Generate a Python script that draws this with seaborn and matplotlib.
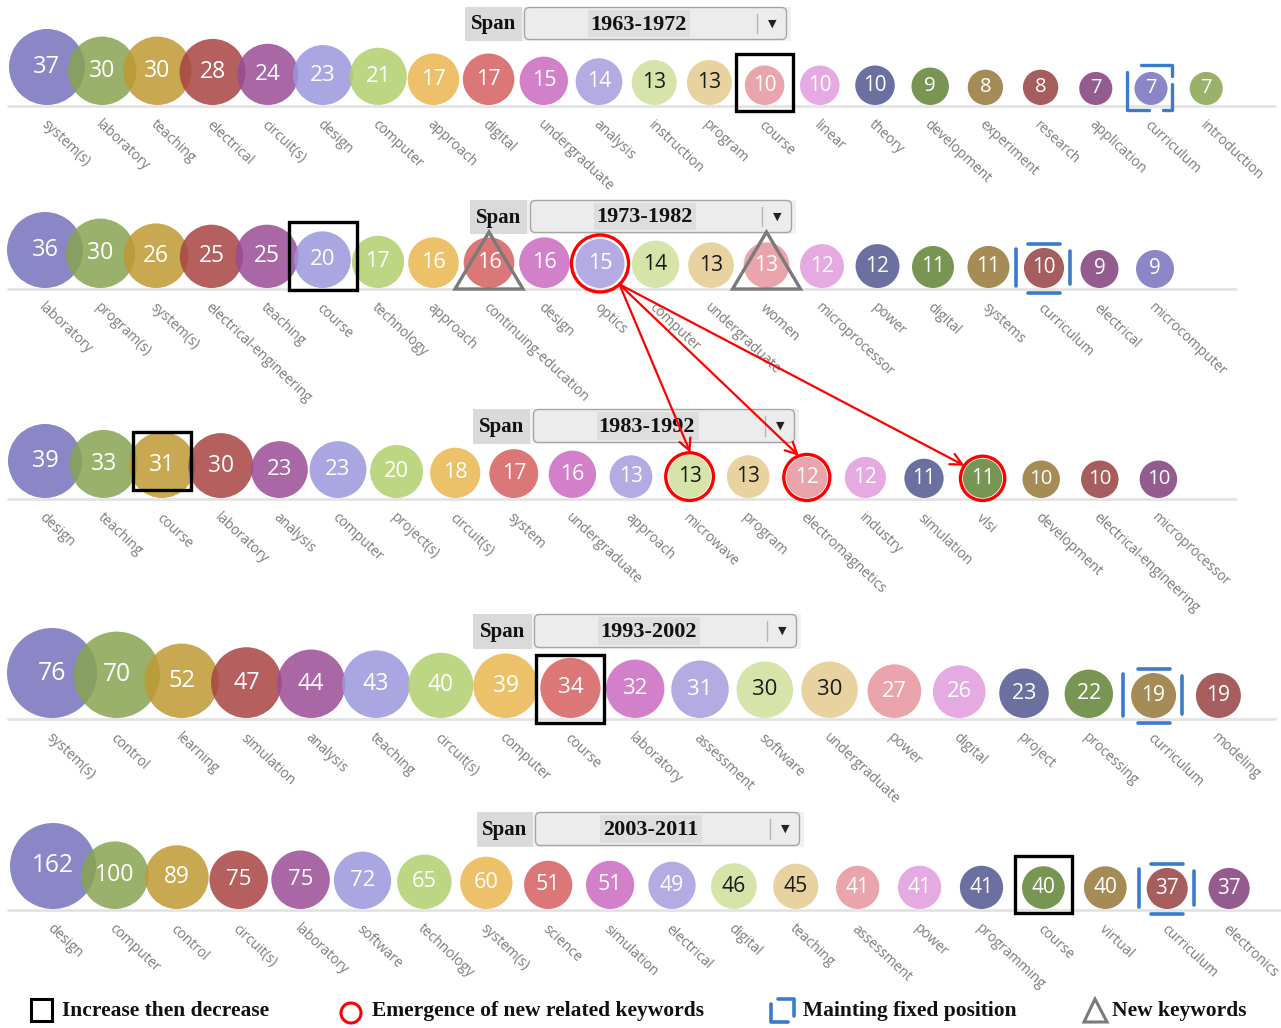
import numpy as np
import pandas as pd
import matplotlib
matplotlib.use("Agg")
import matplotlib.pyplot as plt
import seaborn as sns
from matplotlib.patches import Rectangle, Circle, Polygon, FancyBboxPatch
from matplotlib.colors import to_rgb

# ---------------- data ----------------
spans = ["1963-1972", "1973-1982", "1983-1992", "1993-2002", "2003-2011"]

kw_1963 = ["system(s)", "laboratory", "teaching", "electrical", "circuit(s)", "design", "computer",
           "approach", "digital", "undergraduate", "analysis", "instruction", "program", "course",
           "linear", "theory", "development", "experiment", "research", "application", "curriculum",
           "introduction"]
cnt_1963 = [37, 30, 30, 28, 24, 23, 21, 17, 17, 15, 14, 13, 13, 10, 10, 10, 9, 8, 8, 7, 7, 7]

kw_1973 = ["laboratory", "program(s)", "system(s)", "electrical-engineering", "teaching", "course",
           "technology", "approach", "continuing-education", "design", "optics", "computer",
           "undergraduate", "women", "microprocessor", "power", "digital", "systems", "curriculum",
           "electrical", "microcomputer"]
cnt_1973 = [36, 30, 26, 25, 25, 20, 17, 16, 16, 16, 15, 14, 13, 13, 12, 12, 11, 11, 10, 9, 9]

kw_1983 = ["design", "teaching", "course", "laboratory", "analysis", "computer", "project(s)",
           "circuit(s)", "system", "undergraduate", "approach", "microwave", "program",
           "electromagnetics", "industry", "simulation", "vlsi", "development",
           "electrical-engineering", "microprocessor"]
cnt_1983 = [39, 33, 31, 30, 23, 23, 20, 18, 17, 16, 13, 13, 13, 12, 12, 11, 11, 10, 10, 10]

kw_1993 = ["system(s)", "control", "learning", "simulation", "analysis", "teaching", "circuit(s)",
           "computer", "course", "laboratory", "assessment", "software", "undergraduate", "power",
           "digital", "project", "processing", "curriculum", "modeling"]
cnt_1993 = [76, 70, 52, 47, 44, 43, 40, 39, 34, 32, 31, 30, 30, 27, 26, 23, 22, 19, 19]

kw_2003 = ["design", "computer", "control", "circuit(s)", "laboratory", "software", "technology",
           "system(s)", "science", "simulation", "electrical", "digital", "teaching", "assessment",
           "power", "programming", "course", "virtual", "curriculum", "electronics"]
cnt_2003 = [162, 100, 89, 75, 75, 72, 65, 60, 51, 51, 49, 46, 45, 41, 41, 41, 40, 40, 37, 37]

keywords = [kw_1963, kw_1973, kw_1983, kw_1993, kw_2003]
counts = [cnt_1963, cnt_1973, cnt_1983, cnt_1993, cnt_2003]

legend_labels = ["Increase then decrease", "Emergence of new related keywords",
                 "Mainting fixed position", "New keywords"]

# ---------------- layout / style ----------------
W, H, DPI = 1281, 1028, 100
ROW_X0 = [47, 45, 45, 52, 53]
ROW_DX = [55.2, 55.5, 58.6, 64.8, 61.9]
ROW_BASE = [105, 288, 498, 718, 909]
ROW_RMAX = [38, 38, 37, 45, 43]
ROW_LINE_END = [1275, 1236, 1236, 1275, 1281]
SPAN_BOX = [(465, 522, 524, 787, 8, 39), (470, 527, 530, 792, 201, 232),
            (473, 530, 533, 795, 410, 442), (473, 532, 534, 797, 615, 647),
            (477, 533, 535, 800, 813, 845)]

ALPHA = 0.85
OBS = ['#8b86c6', '#99b26b', '#c9a951', '#b55f5f', '#aa67a6', '#aaa7e1', '#bdd683', '#ecc169',
       '#dc7777', '#d480cb', '#b4abe3', '#d6e3a9', '#e9d4a1', '#eba4ab', '#e5aae1', '#6b70a1',
       '#799653', '#a58b56', '#a55d5d', '#955b8f']
def unblend(c):
    rgb = np.array(to_rgb(c))
    return tuple(np.clip((rgb - (1 - ALPHA)) / ALPHA, 0, 1))
palette = {f"c{i}": unblend(c) for i, c in enumerate(OBS)}
DARK_TEXT = {11, 12}

sns.set_theme(style="white")
plt.rcParams["font.family"] = ["Open Sans", "DejaVu Sans"]

fig = plt.figure(figsize=(W / DPI, H / DPI), dpi=DPI)
ax = fig.add_axes([0, 0, 1, 1])

rows = []
for k in range(5):
    vmax = max(counts[k])
    for i, (lab, v) in enumerate(zip(keywords[k], counts[k])):
        r = ROW_RMAX[k] * np.sqrt(v / vmax)
        x = ROW_X0[k] + i * ROW_DX[k]
        y = ROW_BASE[k] - r
        rows.append(dict(row=k, idx=i, label=lab, value=v, r=r, x=x, y=y,
                         s=(2 * r * 72 / DPI) ** 2, hue=f"c{i % 20}"))
df = pd.DataFrame(rows)

# baselines
for k in range(5):
    ax.plot([8, ROW_LINE_END[k]], [ROW_BASE[k] + 1, ROW_BASE[k] + 1], color="#e3e3e3", lw=2, zorder=1)

smin, smax = df["s"].min(), df["s"].max()
sns.scatterplot(data=df, x="x", y="y", hue="hue", palette=palette, hue_order=list(palette.keys()),
                size="s", sizes=(smin, smax), size_norm=(smin, smax), alpha=ALPHA,
                linewidth=0, legend=False, ax=ax, zorder=2)

for _, d in df.iterrows():
    fs = 12.5 + 0.12 * d.r
    col = "#1a1a1a" if d.idx % 20 in DARK_TEXT else "white"
    ax.text(d.x, d.y, str(d.value), ha="center", va="center", fontsize=fs, color=col, zorder=4)
    ax.text(d.x - 4, ROW_BASE[d.row] + 18, d.label, rotation=-43, rotation_mode="anchor",
            ha="left", va="center", fontsize=10, color="#7c7c7c", zorder=3)

# span widgets
serif = ["Liberation Serif", "DejaVu Serif"]
for k, (sx0, sx1, dx0, dx1, y0, y1) in enumerate(SPAN_BOX):
    ax.add_patch(Rectangle((sx0, y0 - 1), dx1 + 4 - sx0, y1 - y0 + 3, facecolor="#f1f1f1",
                           edgecolor="none", zorder=5))
    ax.add_patch(Rectangle((sx0, y0 - 1), sx1 - sx0, y1 - y0 + 3, facecolor="#dadada",
                           edgecolor="none", zorder=6))
    ax.text((sx0 + sx1) / 2, (y0 + y1) / 2 + 1, "Span", ha="center", va="center",
            fontsize=15, fontweight="bold", family=serif, color="#111111", zorder=7)
    ax.add_patch(FancyBboxPatch((dx0 + 2, y0 + 1), dx1 - dx0 - 4, y1 - y0 - 2,
                                boxstyle="round,pad=1.5,rounding_size=5", facecolor="#ececec",
                                edgecolor="#a5a5a5", lw=1, zorder=6))
    tx = dx0 + 0.435 * (dx1 - dx0)
    ax.add_patch(Rectangle((tx - 50, y0 + 2), 102, y1 - y0 - 4, facecolor="#dedede",
                           edgecolor="none", zorder=7))
    ax.text(tx, (y0 + y1) / 2 + 1, spans[k], ha="center", va="center", fontsize=16,
            fontweight="bold", family=serif, color="#111111", zorder=8)
    ax.plot([dx1 - 30, dx1 - 30], [y0 + 6, y1 - 6], color="#b5b5b5", lw=1, zorder=8)
    ax.text(dx1 - 15, (y0 + y1) / 2, "\u25bc", ha="center", va="center", fontsize=8,
            family=["DejaVu Sans"], color="#222222", zorder=8)

def pos(k, i):
    d = df[(df.row == k) & (df.idx == i)].iloc[0]
    return d.x, d.y, d.r

# black squares: increase then decrease
for k, i, half, dy in [(0, 13, 28.5, -3), (1, 5, 34, -4), (2, 2, 29, -4), (3, 8, 34, 1), (4, 16, 28.5, -3)]:
    x, y, r = pos(k, i)
    ax.add_patch(Rectangle((x - half, y + dy - half), 2 * half, 2 * half, facecolor="none",
                           edgecolor="black", lw=2.4, zorder=9))

# red rings
rings = {}
for k, i, extra in [(1, 10, 4), (2, 11, 2.5), (2, 13, 2.5), (2, 16, 2.5)]:
    x, y, r = pos(k, i)
    rings[(k, i)] = (x, y, r + extra)
    ax.add_patch(Circle((x, y), r + extra, facecolor="none", edgecolor="red", lw=2.4, zorder=9))

# arrows
sx, sy, sr = rings[(1, 10)]
start = (sx + sr * np.cos(np.radians(47)), sy + sr * np.sin(np.radians(47)))
for key, ang in [((2, 11), 88), ((2, 13), 110), ((2, 16), 145)]:
    cx, cy, cr = rings[key]
    end = (cx + cr * np.cos(np.radians(ang)), cy - cr * np.sin(np.radians(ang)))
    ax.annotate("", xy=end, xytext=start,
                arrowprops=dict(arrowstyle="->,head_length=0.7,head_width=0.35", color="red",
                                lw=1.6, shrinkA=0, shrinkB=0), zorder=9)

# gray triangles: new keywords
for k, i in [(1, 8), (1, 13)]:
    x, y, r = pos(k, i)
    b = ROW_BASE[k]
    ax.add_patch(Polygon([(x, b - 56), (x - 34, b + 1), (x + 34, b + 1)], closed=True,
                         facecolor="none", edgecolor="#7a7a7a", lw=2.4, zorder=9, joinstyle="miter"))

# blue brackets: maintaining fixed position
BLUE = "#3a7bcc"
x, y, r = pos(0, 20)
for seg in [[(x - 24, y - 16), (x - 24, y + 22), (x - 2, y + 22)],
            [(x - 10, y - 23), (x + 21, y - 23), (x + 21, y - 12)],
            [(x + 21, y - 4), (x + 21, y + 22), (x + 12, y + 22)]]:
    xs, ys = zip(*seg)
    ax.plot(xs, ys, color=BLUE, lw=2.4, solid_joinstyle="round", solid_capstyle="round", zorder=9)
for k, i in [(1, 18), (3, 17), (4, 18)]:
    x, y, r = pos(k, i)
    hx, hy = r + 8, r + 4
    ax.plot([x - hx, x - hx], [y - r + 1, y + r - 2], color=BLUE, lw=2.6, zorder=9)
    ax.plot([x + hx - 2, x + hx - 2], [y - r + 3, y + r - 4], color=BLUE, lw=2.6, zorder=9)
    ax.plot([x - 16, x + 16], [y - hy, y - hy], color=BLUE, lw=2.6, zorder=9)
    ax.plot([x - 16, x + 16], [y + hy + 1, y + hy + 1], color=BLUE, lw=2.6, zorder=9)

# legend
ly = 1011
ax.add_patch(Rectangle((31, 999), 21, 22, facecolor="none", edgecolor="black", lw=2.2, zorder=9))
ax.add_patch(Circle((351, 1013), 10, facecolor="none", edgecolor="red", lw=2.2, zorder=9))
for seg in [[(771, 1004), (771, 1022), (788, 1022)], [(778, 999), (794, 999), (794, 1016)]]:
    xs, ys = zip(*seg)
    ax.plot(xs, ys, color=BLUE, lw=2.6, solid_joinstyle="round", solid_capstyle="round", zorder=9)
ax.add_patch(Polygon([(1095, 999), (1084, 1022), (1107, 1022)], closed=True, facecolor="none",
                     edgecolor="#7a7a7a", lw=2.2, zorder=9))
for tx, t in zip([62, 372, 803, 1112], legend_labels):
    ax.text(tx, ly, t, ha="left", va="center", fontsize=15.5, fontweight="bold", family=serif,
            color="#111111", zorder=9)

ax.set_xlim(0, W)
ax.set_ylim(H, 0)
ax.axis("off")
fig.savefig("out.png", dpi=DPI, facecolor="white")
